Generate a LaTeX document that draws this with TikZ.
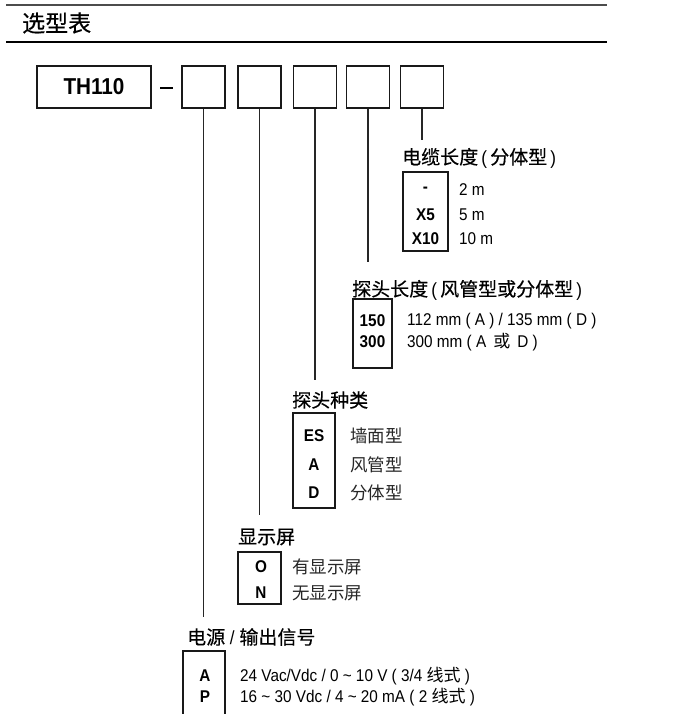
\documentclass[tikz,border=0pt]{standalone}
\usepackage{fontspec}
\setmainfont[FakeStretch=0.9]{Liberation Sans}
\newfontfamily\cjk{Noto Sans CJK SC}
\newfontfamily\cjklab[FakeBold=0.4]{Noto Sans CJK SC}
\begin{document}
\begin{tikzpicture}[x=1pt,y=-1pt,
  frame/.style={draw=black!90,line width=1.1pt,inner sep=0pt},
  selbox/.style={frame,minimum width=43pt,minimum height=42pt},
  optbox/.style={frame,minimum width=43pt},
  code/.style={font=\fontsize{17}{19}\selectfont\bfseries,inner sep=0pt,anchor=center},
  val/.style={font=\fontsize{17}{19}\selectfont,inner sep=0pt,anchor=west},
  cval/.style={font=\fontsize{17.5}{19}\selectfont\cjk,inner sep=0pt,anchor=west,text=black!85},
  lab/.style={font=\fontsize{19}{21}\selectfont,inner sep=0pt,anchor=west},
  leader/.style={draw=black!85,line width=1.2pt}]
\useasboundingbox (0,0) rectangle (700,714);
% header
\draw[line width=2.2pt,black!70] (6,5) -- (607,5);
\draw[line width=1.5pt,black] (6,42) -- (607,42);
\node[inner sep=0pt,anchor=west,font=\fontsize{23}{25}\selectfont\cjklab] (title) at (22,23) {选型表};
% code row
\node[frame,minimum width=114pt,minimum height=42pt,font=\fontsize{23}{25}\selectfont\bfseries] (th) at (94,87) {TH110};
\node[inner sep=0pt] (dash) at (166.5,88) {\rule{13pt}{1.3pt}};
\node[selbox] (b1) at (203.5,87) {};
\node[selbox] (b2) at (259.5,87) {};
\node[selbox] (b3) at (315,87) {};
\node[selbox] (b4) at (368,87) {};
\node[selbox] (b5) at (422,87) {};
\coordinate (e1) at (203.5,617);
\coordinate (e2) at (259.5,515);
\coordinate (e3) at (315,380);
\coordinate (e4) at (368,262);
\coordinate (e5) at (422,140);
\draw[leader] (b1.south) -- (e1);
\draw[leader] (b2.south) -- (e2);
\draw[leader] (b3.south) -- (e3);
\draw[leader] (b4.south) -- (e4);
\draw[leader] (b5.south) -- (e5);
% cable length
\node[lab] (l5) at (402,158) {{\cjklab 电缆长度}\,(\,{\cjklab 分体型}\,)};
\node[optbox,minimum width=45pt,minimum height=79pt] (o5) at (425.5,211.5) {};
\node[code] (c51) at (425.5,190) {-};
\node[code] (c52) at (425.5,215) {X5};
\node[code] (c53) at (425.5,239) {X10};
\node[val] (v51) at (459,190) {2 m};
\node[val] (v52) at (459,215) {5 m};
\node[val] (v53) at (459,239) {10 m};
% probe length
\node[lab] (l4) at (352,290) {{\cjklab 探头长度}\,(\,{\cjklab 风管型或分体型}\,)};
\node[optbox,minimum width=39pt,minimum height=69pt] (o4) at (372.5,333.5) {};
\node[code] (c41) at (372.5,321) {150};
\node[code] (c42) at (372.5,342) {300};
\node[val] (v41) at (407,321) {112 mm ( A ) / 135 mm ( D )};
\node[val] (v42) at (407,342) {300 mm ( A \,{\cjk 或}\, D )};
% probe type
\node[lab,font=\fontsize{19}{21}\selectfont\cjklab] (l3) at (292,400) {探头种类};
\node[optbox,minimum width=42pt,minimum height=95pt] (o3) at (314,460.5) {};
\node[code] (c31) at (314,436) {ES};
\node[code] (c32) at (314,465) {A};
\node[code] (c33) at (314,493) {D};
\node[cval] (v31) at (350,436) {墙面型};
\node[cval] (v32) at (350,465) {风管型};
\node[cval] (v33) at (350,493) {分体型};
% display
\node[lab,font=\fontsize{19}{21}\selectfont\cjklab] (l2) at (238,537) {显示屏};
\node[optbox,minimum width=43pt,minimum height=52pt] (o2) at (259.5,578) {};
\node[code] (c21) at (261,567) {O};
\node[code] (c22) at (261,593) {N};
\node[cval] (v21) at (292,567) {有显示屏};
\node[cval] (v22) at (292,593) {无显示屏};
% power / output
\node[lab] (l1) at (187,637) {{\cjklab 电源}\ /\ {\cjklab 输出信号}};
\draw[frame] (183,716) -- (183,651) -- (225,651) -- (225,716);
\node[code] (c11) at (205,676) {A};
\node[code] (c12) at (205,697) {P};
\node[val] (v11) at (240,676) {24 Vac/Vdc / 0 \textasciitilde{} 10 V ( 3/4 {\cjk 线式} )};
\node[val] (v12) at (240,697) {16 \textasciitilde{} 30 Vdc / 4 \textasciitilde{} 20 mA ( 2 {\cjk 线式} )};
\end{tikzpicture}
\end{document}
